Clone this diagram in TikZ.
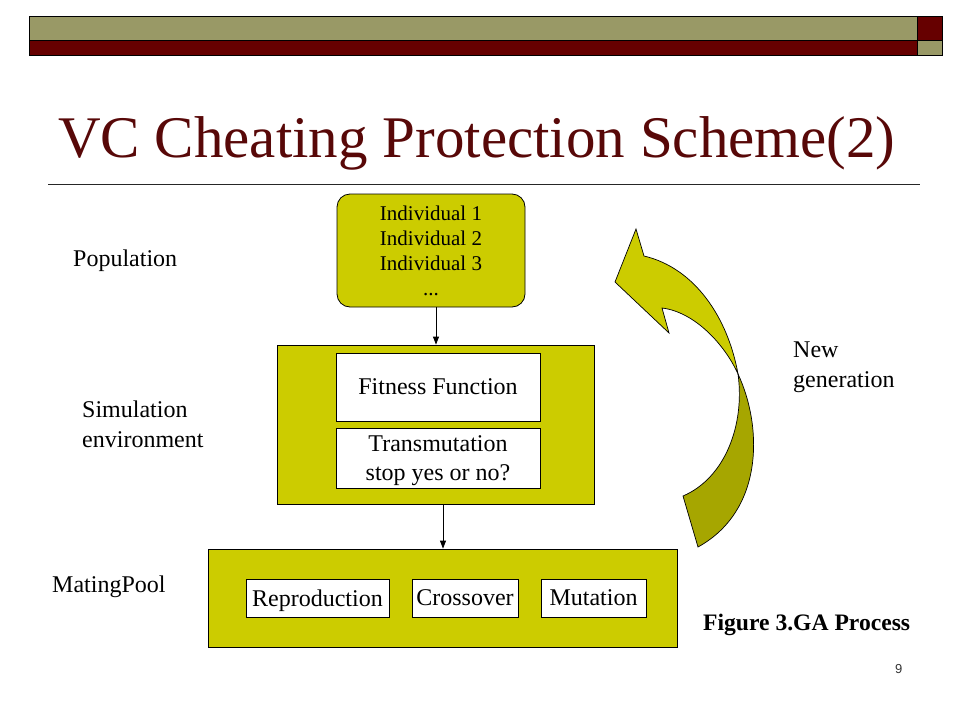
\documentclass[tikz,border=0pt]{standalone}
\usepackage{fontspec}
\setmainfont{Liberation Serif}
\newfontfamily\slidesans{Liberation Sans}
\usetikzlibrary{arrows.meta}
\definecolor{olivebar}{RGB}{153,153,102}
\definecolor{maroonbar}{RGB}{102,0,0}
\definecolor{titlered}{RGB}{88,8,8}
\definecolor{ybox}{RGB}{204,204,0}
\definecolor{ydark}{RGB}{166,166,0}
\tikzset{
  ybox/.style={draw=black, line width=0.8pt, fill=ybox, inner sep=0pt},
  wbox/.style={draw=black, line width=0.8pt, fill=white, inner sep=0pt, font=\fontsize{24}{28.3}\selectfont, align=center, text depth=0pt},
  lbl/.style={anchor=base west, inner sep=0pt, font=\fontsize{24}{30}\selectfont},
  arr/.style={line width=0.8pt, -{Triangle[length=8pt,width=6pt]}},
  barbox/.style={draw=black, line width=0.8pt}
}
\begin{document}
\begin{tikzpicture}[x=1pt,y=-1pt]
\useasboundingbox (0,0) rectangle (960,720);
% top bar
\draw[barbox, fill=olivebar] (29.5,16) rectangle (917,40);
\draw[barbox, fill=maroonbar] (29.5,40) rectangle (917,55);
\draw[barbox, fill=maroonbar] (917,16) rectangle (942,40);
\draw[barbox, fill=olivebar] (917,40) rectangle (942,55);
% title
\node[anchor=base west, inner sep=0pt, text=titlered, font=\fontsize{59}{59}\selectfont] (title) at (58,157) {VC Cheating Protection Scheme(2)};
\draw[line width=0.8pt, black!85] (48,184) -- (920,184);
% population
\node[ybox, rounded corners=13pt, minimum width=188pt, minimum height=113pt, align=center, font=\fontsize{21}{25}\selectfont] (pop) at (431,250.5) {Individual 1\\Individual 2\\Individual 3\\...};
% simulation environment
\node[ybox, minimum width=317pt, minimum height=159pt] (sim) at (435.5,424.5) {};
\node[wbox, minimum width=204pt, minimum height=68pt] (fit) at (438,387) {Fitness Function};
\node[wbox, minimum width=204pt, minimum height=60pt] (trans) at (438,458) {Transmutation\\stop yes or no?};
% mating pool
\node[ybox, minimum width=469pt, minimum height=98pt] (mate) at (442.5,598) {};
\node[wbox, minimum width=143pt, minimum height=38pt] (rep) at (317.5,598) {Reproduction};
\node[wbox, minimum width=106pt, minimum height=38pt] (cro) at (465,598) {Crossover};
\node[wbox, minimum width=105pt, minimum height=38pt] (mut) at (593.5,598) {Mutation};
% arrows
\draw[arr] (pop.south) ++(5,0) -- ([xshift=5pt]pop.south |- sim.north);
\draw[arr] (sim.south) ++(7.5,0) -- ([xshift=7.5pt]sim.south |- mate.north);
% curved arrow
\draw[line width=0.7pt, fill=ydark] (738,374) .. controls (762,425) and (765,510) .. (698,547) -- (683,496) .. controls (725,478) and (745,425) .. (738,374) -- cycle;
\draw[line width=0.7pt, fill=ybox, line join=miter] (636,229) -- (644,256) .. controls (695,268) and (728,318) .. (738,374) .. controls (725,345) and (695,312) .. (662,308) -- (669,333) -- (615,282) -- cycle;
% labels
\node[lbl] (lpop) at (73,266) {Population};
\node[lbl] (lsim1) at (82,417) {Simulation};
\node[lbl] (lsim2) at (82,447) {environment};
\node[lbl] (lmate) at (52,592) {MatingPool};
\node[lbl] (lnew1) at (793,357) {New};
\node[lbl] (lnew2) at (793,387) {generation};
\node[lbl, font=\fontsize{23.6}{28}\selectfont\bfseries] (fig) at (703,630) {Figure 3.GA Process};
\node[anchor=base west, inner sep=0pt, font=\slidesans\fontsize{13}{15}\selectfont, text=black!80] (pg) at (895,673) {9};
\end{tikzpicture}
\end{document}
